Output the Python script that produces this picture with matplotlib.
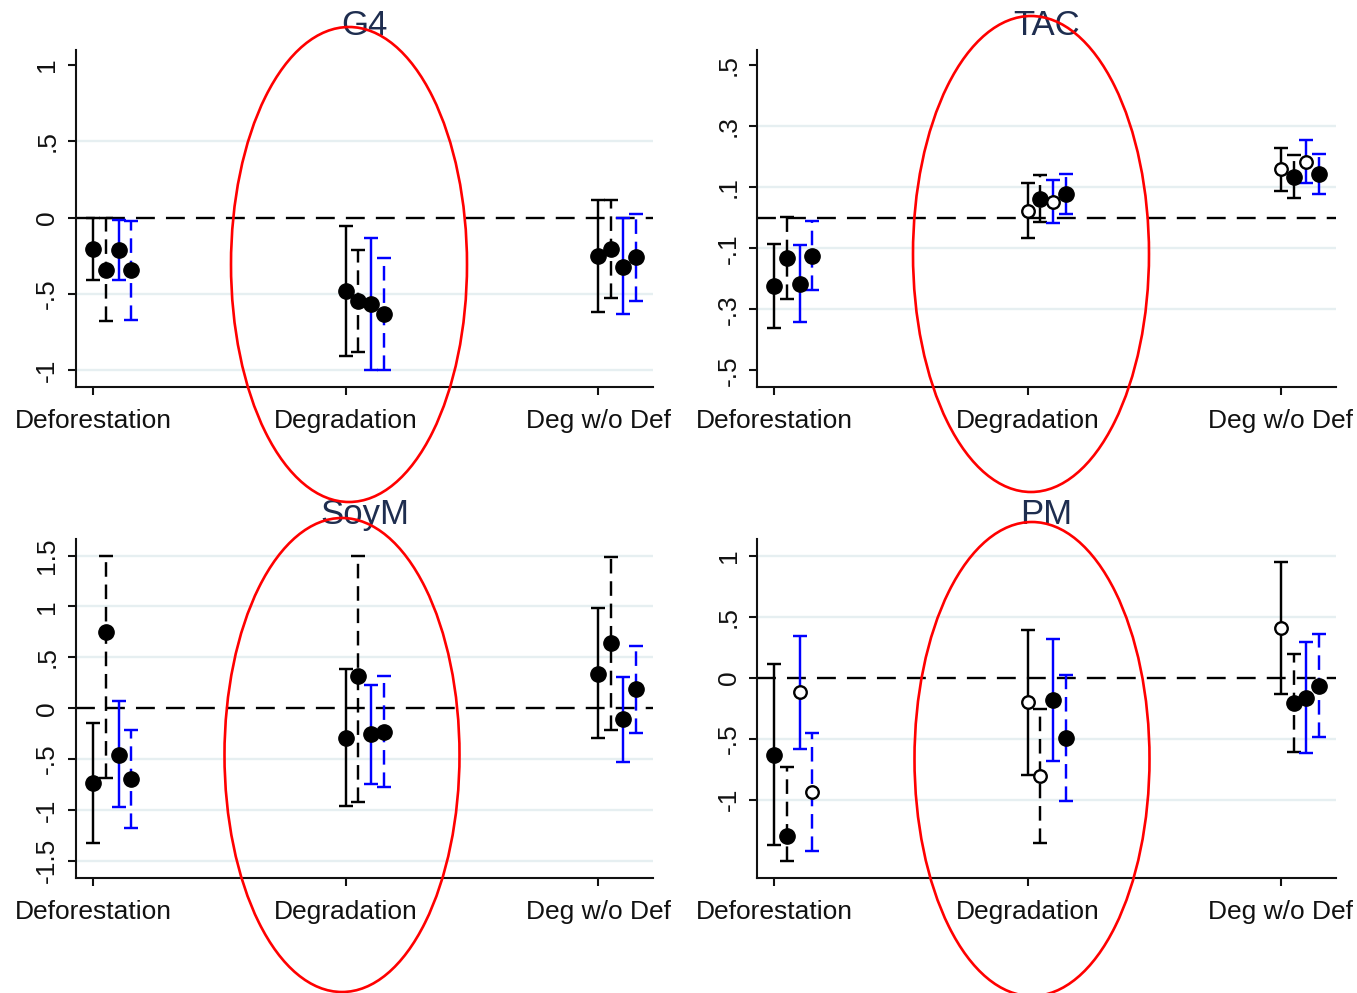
import numpy as np
import matplotlib
matplotlib.use("Agg")
import matplotlib.pyplot as plt
from matplotlib.patches import Ellipse

plt.rcParams["font.family"] = ["Liberation Sans", "DejaVu Sans"]

categories = ["Deforestation", "Degradation", "Deg w/o Def"]

# rows = series (black solid, black dashed, blue solid, blue dashed), cols = categories
g4_b = [[-0.205, -0.478, -0.249], [-0.34, -0.548, -0.205], [-0.21, -0.566, -0.323], [-0.345, -0.631, -0.26]]
g4_lo = [[-0.406, -0.904, -0.616], [-0.68, -0.882, -0.528], [-0.406, -0.996, -0.633], [-0.668, -0.996, -0.548]]
g4_hi = [[0.0, -0.052, 0.118], [0.0, -0.212, 0.114], [-0.015, -0.133, -0.004], [-0.024, -0.262, 0.024]]
g4_hollow = [[0, 0, 0], [0, 0, 0], [0, 0, 0], [0, 0, 0]]

tac_b = [[-0.223, 0.023, 0.159], [-0.1325, 0.0605, 0.135], [-0.216, 0.053, 0.184], [-0.125, 0.078, 0.1445]]
tac_lo = [[-0.361, -0.067, 0.088], [-0.266, -0.0125, 0.064], [-0.342, -0.016, 0.114], [-0.238, 0.0125, 0.079]]
tac_hi = [[-0.0845, 0.115, 0.230], [0.003, 0.140, 0.206], [-0.090, 0.124, 0.254], [-0.010, 0.144, 0.210]]
tac_hollow = [[0, 1, 1], [0, 0, 0], [0, 1, 1], [0, 0, 0]]

soy_b = [[-0.738, -0.289, 0.341], [0.748, 0.321, 0.636], [-0.456, -0.256, -0.108], [-0.695, -0.2295, 0.187]]
soy_lo = [[-1.325, -0.964, -0.295], [-0.689, -0.925, -0.21], [-0.974, -0.741, -0.525], [-1.174, -0.770, -0.243]]
soy_hi = [[-0.144, 0.387, 0.984], [1.50, 1.50, 1.485], [0.066, 0.230, 0.305], [-0.21, 0.321, 0.616]]
soy_hollow = [[0, 0, 0], [0, 0, 0], [0, 0, 0], [0, 0, 0]]

pm_b = [[-0.634, -0.199, 0.407], [-1.30, -0.803, -0.208], [-0.120, -0.183, -0.164], [-0.937, -0.497, -0.066]]
pm_lo = [[-1.374, -0.798, -0.137], [-1.50, -1.352, -0.612], [-0.585, -0.683, -0.620], [-1.418, -1.014, -0.486]]
pm_hi = [[0.112, 0.391, 0.951], [-0.732, -0.257, 0.197], [0.339, 0.317, 0.295], [-0.451, 0.019, 0.358]]
pm_hollow = [[0, 1, 1], [0, 1, 0], [1, 0, 0], [1, 0, 0]]

g4_ticks = [1, 0.5, 0, -0.5, -1]
g4_ticklabels = ["1", ".5", "0", "-.5", "-1"]
tac_ticks = [0.5, 0.3, 0.1, -0.1, -0.3, -0.5]
tac_ticklabels = [".5", ".3", ".1", "-.1", "-.3", "-.5"]
soy_ticks = [1.5, 1, 0.5, 0, -0.5, -1, -1.5]
soy_ticklabels = ["1.5", "1", ".5", "0", "-.5", "-1", "-1.5"]
pm_ticks = [1, 0.5, 0, -0.5, -1]
pm_ticklabels = ["1", ".5", "0", "-.5", "-1"]

series_color = ["black", "black", "#0000ff", "#0000ff"]
series_dash = ["-", (0, (6, 3.2)), "-", (0, (6, 3.2))]
offsets = [0.0, 0.05, 0.1, 0.15]
title_color = "#1e2d4f"
grid_color = "#e6eff1"

fig = plt.figure(figsize=(13.57, 9.93), dpi=100)
fig.patch.set_facecolor("white")


def panel(rect, title, b, lo, hi, hollow, ticks, ticklabels, grid, ylim, xlim):
    ax = fig.add_axes(rect)
    x = np.arange(1, len(categories) + 1)
    for g in grid:
        ax.axhline(g, color=grid_color, lw=1.7, zorder=0)
    ax.axhline(0, color="black", lw=1.7, ls=(0, (8, 4.7)), zorder=1)
    for s in range(4):
        xs = x + offsets[s]
        bs = np.array(b[s])
        err = [bs - np.array(lo[s]), np.array(hi[s]) - bs]
        eb = ax.errorbar(xs, bs, yerr=err, fmt="none", ecolor=series_color[s],
                         elinewidth=1.75, capsize=4.7, capthick=1.75, zorder=2)
        eb[2][0].set_linestyle(series_dash[s])
        for k in range(len(xs)):
            if hollow[s][k]:
                ax.plot(xs[k], bs[k], "o", ms=9, mfc="white", mec="black", mew=1.7, zorder=3)
            else:
                ax.plot(xs[k], bs[k], "o", ms=11, mfc="black", mec="black", zorder=3)
    ax.set_xlim(*xlim)
    ax.set_ylim(*ylim)
    ax.set_xticks(x)
    ax.set_xticklabels(categories, fontsize=19)
    ax.set_yticks(ticks)
    ax.set_yticklabels(ticklabels, fontsize=19, rotation=90, va="center")
    for sp in ["top", "right"]:
        ax.spines[sp].set_visible(False)
    for sp in ["left", "bottom"]:
        ax.spines[sp].set_linewidth(1.5)
        ax.spines[sp].set_color("#111111")
    ax.tick_params(axis="both", length=6, width=1.5, direction="out", colors="#111111")
    ax.tick_params(axis="y", pad=6)
    ax.tick_params(axis="x", pad=10)
    ax.set_title(title, fontsize=25, color=title_color, pad=11)
    return ax


panel([0.0559, 0.6103, 0.4253, 0.3394], "G4", g4_b, g4_lo, g4_hi, g4_hollow,
      g4_ticks, g4_ticklabels, [0.5, -0.5, -1], (-1.109, 1.098), (0.931, 3.217))
panel([0.558, 0.6103, 0.4265, 0.3394], "TAC", tac_b, tac_lo, tac_hi, tac_hollow,
      tac_ticks, tac_ticklabels, [0.3, 0.1, -0.1, -0.3], (-0.5545, 0.551), (0.933, 3.217))
panel([0.0559, 0.1161, 0.4253, 0.3408], "SoyM", soy_b, soy_lo, soy_hi, soy_hollow,
      soy_ticks, soy_ticklabels, [1.5, 1, 0.5, -0.5, -1, -1.5], (-1.666, 1.66), (0.931, 3.217))
panel([0.558, 0.1161, 0.4265, 0.3408], "PM", pm_b, pm_lo, pm_hi, pm_hollow,
      pm_ticks, pm_ticklabels, [1, 0.5, -0.5, -1], (-1.639, 1.134), (0.933, 3.217))

# red ellipses highlighting the Degradation group (figure pixel centres)
W, H = 1357, 993
for cx, cy, w, h in [(349, 264.5, 236, 475), (1031, 254, 236, 476),
                     (342, 755, 235, 474), (1032, 759, 235, 474)]:
    e = Ellipse((cx / W, 1 - cy / H), w / W, h / H, transform=fig.transFigure,
                fill=False, edgecolor="#ff0000", lw=1.9, zorder=10)
    fig.add_artist(e)

fig.savefig("out.png", dpi=100)
